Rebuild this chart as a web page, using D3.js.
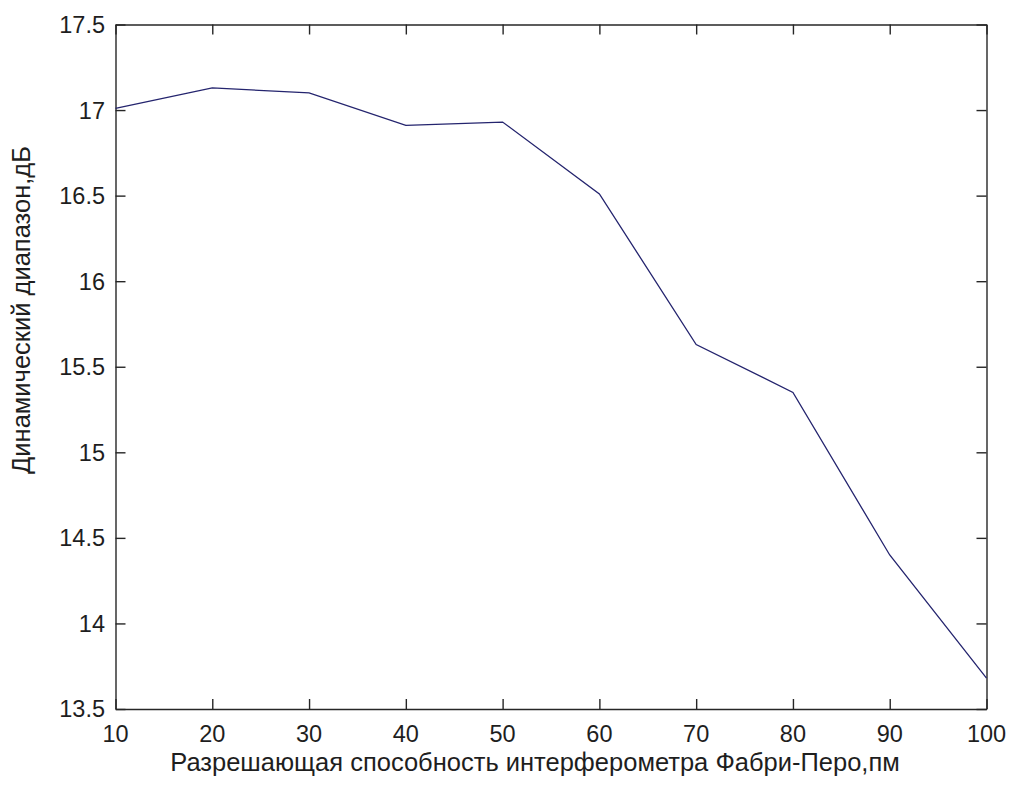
<!DOCTYPE html>
<html>
<head>
<meta charset="utf-8">
<script src="https://cdn.jsdelivr.net/npm/d3@7"></script>
<style>
  html, body { margin: 0; padding: 0; background: #ffffff; }
  svg { display: block; }
  text { font-family: "Liberation Sans", Arial, sans-serif; fill: #1e1e1e; }
</style>
</head>
<body>
<svg id="chart" width="1010" height="789"></svg>
<script>
// Resolution of the Fabry-Perot interferometer, pm
const resolutionPm = [10, 20, 30, 40, 50, 60, 70, 80, 90, 100];
// Dynamic range, dB
const dynamicRangeDb = [17.01, 17.13, 17.10, 16.91, 16.93, 16.51, 15.63, 15.35, 14.40, 13.68];

const xTicks = [10, 20, 30, 40, 50, 60, 70, 80, 90, 100];
const yTicks = [13.5, 14, 14.5, 15, 15.5, 16, 16.5, 17, 17.5];

const xLabel = "Разрешающая способность интерферометра Фабри-Перо,пм";
const yLabel = "Динамический диапазон,дБ";

const plotLeft = 115.5, plotRight = 986.5, plotTop = 24.5, plotBottom = 709;
const tickFont = 23.5;
const titleFont = 25.5;
const tickLen = 10;
const axisColor = "#262626";

const svg = d3.select("#chart");

const x = d3.scaleLinear().domain([10, 100]).range([plotLeft, plotRight]);
const y = d3.scaleLinear().domain([13.5, 17.5]).range([plotBottom, plotTop]);

const fmt = d => String(d);

// Box axes: ticks point inward on all four sides
const axes = [
  { g: d3.axisBottom(x).tickValues(xTicks).tickSizeInner(-tickLen).tickSizeOuter(0).tickFormat(""), t: `translate(0,${plotBottom})` },
  { g: d3.axisTop(x).tickValues(xTicks).tickSizeInner(-tickLen).tickSizeOuter(0).tickFormat(""), t: `translate(0,${plotTop})` },
  { g: d3.axisLeft(y).tickValues(yTicks).tickSizeInner(-tickLen).tickSizeOuter(0).tickFormat(""), t: `translate(${plotLeft},0)` },
  { g: d3.axisRight(y).tickValues(yTicks).tickSizeInner(-tickLen).tickSizeOuter(0).tickFormat(""), t: `translate(${plotRight},0)` }
];
axes.forEach(a => {
  const g = svg.append("g").attr("transform", a.t).call(a.g);
  g.selectAll("path.domain").attr("stroke", axisColor).attr("stroke-width", 1.4);
  g.selectAll(".tick line").attr("stroke", axisColor).attr("stroke-width", 1.4);
});

// Tick labels
svg.append("g").selectAll("text").data(xTicks).join("text")
  .attr("x", d => x(d))
  .attr("y", 741.5)
  .attr("text-anchor", "middle")
  .style("font-size", tickFont + "px")
  .text(fmt);

svg.append("g").selectAll("text").data(yTicks).join("text")
  .attr("x", 105)
  .attr("y", d => y(d))
  .attr("text-anchor", "end")
  .attr("dy", "0.36em")
  .style("font-size", tickFont + "px")
  .text(fmt);

// Axis titles
svg.append("text")
  .attr("transform", "translate(535,771)")
  .attr("text-anchor", "middle")
  .style("font-size", titleFont + "px")
  .text(xLabel);

svg.append("text")
  .attr("transform", "translate(30,310) rotate(-90)")
  .attr("text-anchor", "middle")
  .style("font-size", titleFont + "px")
  .text(yLabel);

// Data line
const line = d3.line()
  .x((d, i) => x(resolutionPm[i]))
  .y(d => y(d));

svg.append("path")
  .datum(dynamicRangeDb)
  .attr("fill", "none")
  .attr("stroke", "#24246e")
  .attr("stroke-width", 1.3)
  .attr("d", line);
</script>
</body>
</html>
